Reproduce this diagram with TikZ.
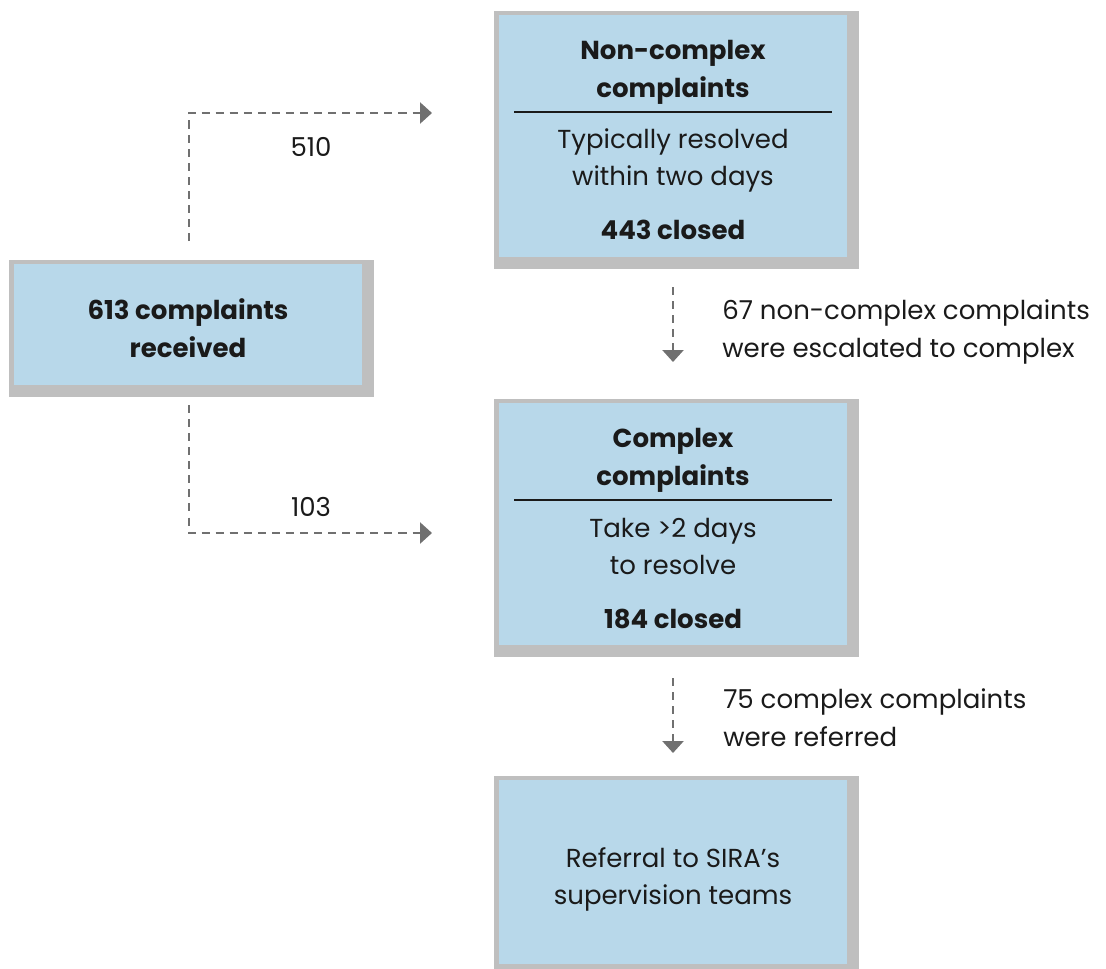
\documentclass[tikz,border=0pt]{standalone}
\usepackage{fontspec}
\setmainfont{Poppins}
\usetikzlibrary{arrows.meta,backgrounds}

\definecolor{boxblue}{HTML}{B8D8EA}
\definecolor{boxgrey}{HTML}{BFBFBF}
\definecolor{flowgrey}{HTML}{707070}
\definecolor{ink}{HTML}{1A1A1A}

\begin{document}
\begin{tikzpicture}[x=0.025cm,y=-0.025cm,
    box/.style={fill=boxblue, inner sep=0pt, minimum width=8.7cm},
    txt/.style={anchor=base, inner sep=0pt, text=ink, font=\fontsize{18.5}{27}\selectfont},
    btxt/.style={txt, font=\fontsize{18.5}{27}\selectfont\bfseries},
    ltxt/.style={txt, anchor=base west},
    flow/.style={flowgrey, line width=2.1pt, dash pattern=on 5.7pt off 4.3pt,
                 -{Triangle[width=14.8pt,length=8.5pt]}}]
  % helper grid: comment for final drawing
  % \draw[help lines,step=50] (0,0) grid (1106,968);
  \useasboundingbox (0,0) rectangle (1106,968);

  % boxes
  \node[box, minimum height=3.025cm] (recv)  at (188,324.5) {};
  \node[box, minimum height=6.05cm]  (noncx) at (673,136)   {};
  \node[box, minimum height=6.05cm]  (cx)    at (673,524)   {};
  \node[box, minimum height=4.575cm] (refer) at (673,872)   {};

  % grey frames behind the boxes
  \begin{scope}[on background layer]
    \foreach \n in {recv,noncx,cx,refer}
      \fill[boxgrey] ([shift={(-5,-4)}]\n.north west) rectangle ([shift={(12,12)}]\n.south east);
  \end{scope}

  % received
  \node[btxt] (recv1) at (188,319) {613 complaints};
  \node[btxt] (recv2) at (188,357) {received};

  % non-complex
  \node[btxt] (nct1) at (673,59)  {Non-complex};
  \node[btxt] (nct2) at (673,97)  {complaints};
  \draw[ink, line width=0.8pt] (514,112) -- (832,112);
  \node[txt]  (ncd1) at (673,148) {Typically resolved};
  \node[txt]  (ncd2) at (673,185) {within two days};
  \node[btxt] (ncc)  at (673,239) {443 closed};

  % complex
  \node[btxt] (cxt1) at (673,447) {Complex};
  \node[btxt] (cxt2) at (673,485) {complaints};
  \draw[ink, line width=0.8pt] (514,500) -- (832,500);
  \node[txt]  (cxd1) at (673,537) {Take >2 days};
  \node[txt]  (cxd2) at (673,574) {to resolve};
  \node[btxt] (cxc)  at (673,628) {184 closed};

  % referral
  \node[txt] (ref1) at (673,867) {Referral to SIRA’s};
  \node[txt] (ref2) at (673,904) {supervision teams};

  % connectors
  \coordinate (up0) at (189,241);
  \coordinate (up1) at (432,113);
  \coordinate (dn0) at (189,405);
  \coordinate (dn1) at (432,533);
  \coordinate (esc0) at (673,287);
  \coordinate (esc1) at (673,362);
  \coordinate (rf0) at (673,678);
  \coordinate (rf1) at (673,753);

  \draw[flow] (up0) |- (up1);
  \draw[flow] (dn0) |- (dn1);
  \draw[flow] (esc0) -- (esc1);
  \draw[flow] (rf0) -- (rf1);

  \node[txt]  (n510) at (311,156) {510};
  \node[txt]  (n103) at (311,516) {103};
  \node[ltxt] (esc2) at (722,319) {67 non-complex complaints};
  \node[ltxt] (esc3) at (722,357) {were escalated to complex};
  \node[ltxt] (rf2)  at (723,708) {75 complex complaints};
  \node[ltxt] (rf3)  at (723,746) {were referred};

\end{tikzpicture}
\end{document}
